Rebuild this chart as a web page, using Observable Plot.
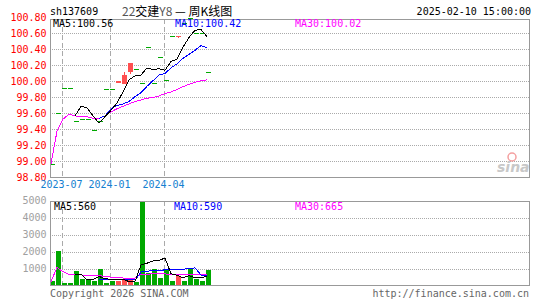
<!DOCTYPE html>
<html><head><meta charset="utf-8">
<script src="https://cdn.jsdelivr.net/npm/d3@7"></script>
<script src="https://cdn.jsdelivr.net/npm/@observablehq/plot@0.6"></script>
<style>
html,body{margin:0;padding:0;background:#fff;}
#root{position:relative;width:545px;height:300px;overflow:hidden;background:#fff;}
#root svg{position:absolute;left:0;}
</style></head><body><div id="root"></div>
<script>
// ---- data (weekly K-line, 22交建Y8, sh137609) ----
const opens  = [98.96, 99.59, 99.91, 99.91, 99.50, 99.52, 99.52, 99.38, 99.50, 99.90, 99.90, 99.985, 99.975, 100.12, 100.15, 99.97, 100.42, 99.975, 100.30, 100.01, 100.56, 100.553, 100.72, 100.78, 100.59, 100.60, 100.11];
const closes = [98.96, 99.59, 99.91, 99.91, 99.50, 99.52, 99.52, 99.38, 99.50, 99.90, 99.90, 99.99, 100.07, 100.22, 100.15, 99.97, 100.42, 99.975, 100.30, 100.01, 100.56, 100.56, 100.72, 100.78, 100.59, 100.60, 100.11];
const highs  = [98.96, 99.59, 99.91, 99.91, 99.50, 99.52, 99.52, 99.38, 99.50, 99.90, 99.90, 100.00, 100.11, 100.22, 100.15, 99.97, 100.42, 99.975, 100.30, 100.01, 100.56, 100.56, 100.72, 100.78, 100.59, 100.60, 100.11];
const lows   = [98.96, 99.59, 99.91, 99.91, 99.50, 99.52, 99.52, 99.38, 99.50, 99.90, 99.90, 99.98, 99.97, 100.09, 100.15, 99.97, 100.42, 99.975, 100.30, 100.01, 100.56, 100.54, 100.72, 100.78, 100.59, 100.60, 100.11];
const volumes = [250, 2020, 150, 150, 840, 370, 350, 250, 1000, 150, 250, 250, 330, 330, 180, 5100, 760, 1000, 450, 940, 250, 550, 250, 1000, 400, 250, 900];

const ma5  = [null, null, null, null, 99.57, 99.69, 99.67, 99.57, 99.48, 99.56, 99.64, 99.73, 99.87, 100.02, 100.07, 100.08, 100.17, 100.15, 100.16, 100.14, 100.25, 100.28, 100.43, 100.55, 100.64, 100.65, 100.56];
const ma10 = [null, null, null, null, null, null, null, null, 99.54, 99.57, 99.66, 99.70, 99.72, 99.75, 99.81, 99.86, 99.94, 100.01, 100.08, 100.10, 100.17, 100.22, 100.29, 100.34, 100.39, 100.45, 100.42];
const ma30 = [98.97, 99.38, 99.53, 99.59, 99.57, 99.56, 99.56, 99.54, 99.54, 99.57, 99.62, 99.66, 99.69, 99.72, 99.75, 99.77, 99.79, 99.80, 99.82, 99.85, 99.87, 99.90, 99.935, 99.965, 99.99, 100.01, 100.02];

const volMa5  = [null, null, null, null, 680, 706, 372, 392, 562, 424, 400, 380, 396, 262, 268, 1238, 1340, 1474, 1498, 1650, 720, 638, 488, 598, 490, 490, 560];
const volMa10 = [null, null, null, null, null, null, null, null, 370, 370, 375, 376, 394, 400, 350, 820, 860, 935, 880, 960, 960, 990, 980, 1050, 1060, 650, 590];
const volMa30 = [250, 1090, 840, 690, 665, 650, 620, 620, 600, 575, 520, 490, 470, 460, 460, 705, 700, 710, 710, 710, 690, 690, 680, 680, 665, 650, 665];

const priceTicks = [98.8, 99.0, 99.2, 99.4, 99.6, 99.8, 100.0, 100.2, 100.4, 100.6, 100.8];
const priceGrid  = [99.0, 99.2, 99.4, 99.6, 99.8, 100.0, 100.2, 100.4, 100.6];
const volTicks   = [1000, 2000, 3000, 4000, 5000];
const volGrid    = [1000, 2000, 3000, 4000];
const dateLabels = ["2023-07", "2024-01", "2024-04"];
const dateIndex  = [2, 10, 19];

// ---- build tables ----
const N = closes.length;
const UP = "#ff5050", DOWN = "#00a800";
const candles = d3.range(N).map(i => ({
  i, open: opens[i], close: closes[i], high: highs[i], low: lows[i], vol: volumes[i],
  color: closes[i] > opens[i] ? UP : DOWN
}));
const series = arr => arr.map((v, i) => ({i, v})).filter(d => d.v != null);
const dates = dateIndex.map((i, k) => ({i, label: dateLabels[k]}));

const MONO = "DejaVu Sans Mono";
const BW = 5 / 6;       // body width in slot units
const LX = 0.5 / 6;     // line point offset
const xDomain = [0, 479 / 6];
const dashed = {stroke: "#aaa", strokeDasharray: "5,3", shapeRendering: "crispEdges"};
const dotted = {stroke: "#aaa", strokeDasharray: "1,1", shapeRendering: "crispEdges"};

const root = document.getElementById("root");

// ---- price panel ----
const pricePlot = Plot.plot({
  width: 545, height: 200,
  marginLeft: 50, marginRight: 16, marginTop: 19, marginBottom: 23,
  x: {type: "linear", domain: xDomain, range: [50, 529], axis: null},
  y: {domain: [98.8, 100.8], range: [177, 17], axis: null},
  color: {type: "identity"},
  style: {background: "transparent", fontFamily: MONO, fontSize: "10px", overflow: "visible"},
  marks: [
    Plot.ruleY(priceGrid, dotted),
    Plot.ruleX(dateIndex, dashed),
    Plot.ruleX(candles.filter(d => d.high > d.low), {x: d => d.i + 2 / 6, y1: "low", y2: "high", stroke: "color", shapeRendering: "crispEdges"}),
    Plot.rect(candles, {x1: "i", x2: d => d.i + BW, y1: d => Math.min(d.open, d.close), y2: d => Math.max(d.open, d.close),
      fill: "color", insetTop: -0.5, insetBottom: -0.5, shapeRendering: "crispEdges"}),
    Plot.line(series(ma30), {x: d => d.i + LX, y: "v", stroke: "#ff00ff", strokeWidth: 1, shapeRendering: "crispEdges"}),
    Plot.line(series(ma10), {x: d => d.i + LX, y: "v", stroke: "#0000ff", strokeWidth: 1, shapeRendering: "crispEdges"}),
    Plot.line(series(ma5), {x: d => d.i + LX, y: "v", stroke: "#000000", strokeWidth: 1, shapeRendering: "crispEdges"}),
    Plot.frame({stroke: "#999", shapeRendering: "crispEdges"}),
    Plot.text(priceTicks, {y: d => d, text: d => d.toFixed(2), frameAnchor: "left", dx: -4, textAnchor: "end", fill: "#ff0000"}),
    Plot.text(dates, {x: "i", text: "label", frameAnchor: "bottom", dx: -1, dy: 10, fill: "#1480d0"})
  ]
});
pricePlot.style.top = "0px";
root.appendChild(pricePlot);

// ---- volume panel ----
const volPlot = Plot.plot({
  width: 545, height: 105,
  marginLeft: 50, marginRight: 16, marginTop: 6, marginBottom: 15,
  x: {type: "linear", domain: xDomain, range: [50, 529], axis: null},
  y: {domain: [0, 5000], range: [90.5, 5.5], axis: null},
  color: {type: "identity"},
  style: {background: "transparent", fontFamily: MONO, fontSize: "10px", overflow: "visible"},
  marks: [
    Plot.ruleY(volGrid, dotted),
    Plot.ruleX(dateIndex, dashed),
    Plot.rect(candles, {x1: "i", x2: d => d.i + BW, y1: 0, y2: "vol", fill: "color", clip: true, shapeRendering: "crispEdges"}),
    Plot.line(series(volMa30), {x: d => d.i + LX, y: "v", stroke: "#ff00ff", strokeWidth: 1, shapeRendering: "crispEdges"}),
    Plot.line(series(volMa10), {x: d => d.i + LX, y: "v", stroke: "#0000ff", strokeWidth: 1, shapeRendering: "crispEdges"}),
    Plot.line(series(volMa5), {x: d => d.i + LX, y: "v", stroke: "#000000", strokeWidth: 1, shapeRendering: "crispEdges"}),
    Plot.frame({stroke: "#999", shapeRendering: "crispEdges"}),
    Plot.text(volTicks, {y: d => d, text: d => String(d), frameAnchor: "left", dx: -4, textAnchor: "end", fill: "#a0a0a0"})
  ]
});
volPlot.style.top = "195px";
root.appendChild(volPlot);

// ---- titles, legends, footer ----
const ov = d3.select(root).append("svg")
  .attr("width", 545).attr("height", 300)
  .style("position", "absolute").style("top", "0px").style("left", "0px")
  .style("pointer-events", "none")
  .attr("font-family", MONO).attr("font-size", 10);

ov.append("text").attr("x", 50).attr("y", 15).attr("fill", "#000").text("sh137609");
const t = ov.append("text").attr("x", 122).attr("y", 16).attr("font-family", "'Noto Sans CJK SC', " + MONO).attr("font-size", 12).attr("fill", "#000");
t.append("tspan").attr("fill", "#555").text("22");
t.append("tspan").text("交建");
t.append("tspan").attr("fill", "#555").text("Y8");
t.append("tspan").text(" — 周K线图");
ov.append("text").attr("x", 531).attr("y", 15).attr("text-anchor", "end").attr("fill", "#000").text("2025-02-10 15:00:00");

const priceLegend = [
  {x: 53, text: "MA5:" + ma5[N - 1].toFixed(2), fill: "#000"},
  {x: 175, text: "MA10:" + ma10[N - 1].toFixed(2), fill: "#0000ff"},
  {x: 295, text: "MA30:" + ma30[N - 1].toFixed(2), fill: "#ff00ff"}
];
priceLegend.forEach(d => ov.append("text").attr("x", d.x).attr("y", 27).attr("fill", d.fill).text(d.text));
const volLegend = [
  {x: 54, text: "MA5:" + volMa5[N - 1], fill: "#000"},
  {x: 174, text: "MA10:" + volMa10[N - 1], fill: "#0000ff"},
  {x: 295, text: "MA30:" + volMa30[N - 1], fill: "#ff00ff"}
];
volLegend.forEach(d => ov.append("text").attr("x", d.x).attr("y", 210).attr("fill", d.fill).text(d.text));

ov.append("text").attr("x", 50).attr("y", 297).attr("fill", "#666").text("Copyright 2026 SINA.COM");
ov.append("text").attr("x", 529).attr("y", 297).attr("text-anchor", "end").attr("fill", "#666").text("http://finance.sina.com.cn");

// sina watermark
ov.append("circle").attr("cx", 512).attr("cy", 157).attr("r", 4).attr("fill", "none").attr("stroke", "#f4a0a0").attr("stroke-width", 1.5);
ov.append("text").attr("x", 497).attr("y", 172).attr("font-family", "'DejaVu Sans'").attr("font-size", 14)
  .attr("font-style", "italic").attr("font-weight", "bold").attr("fill", "#c8c8c8").text("sina");
</script></body></html>
